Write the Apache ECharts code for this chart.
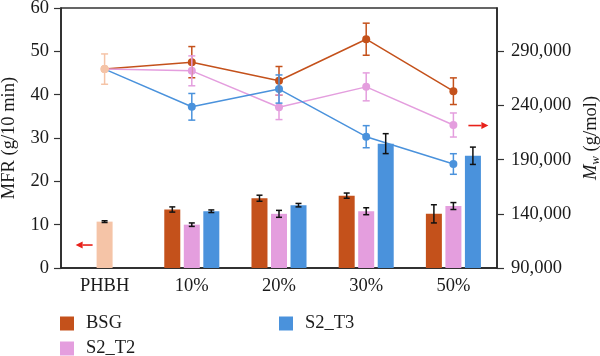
<!DOCTYPE html>
<html>
<head>
<meta charset="utf-8">
<script src="https://cdn.jsdelivr.net/npm/echarts@6/dist/echarts.min.js"></script>
<style>html,body{margin:0;padding:0;background:#fff}#c{width:600px;height:356px}</style>
</head>
<body>
<div id="c"></div>
<script>
const categories = ['PHBH', '10%', '20%', '30%', '50%'];
// MFR (left axis), bars. The PHBH bar sits in the middle slot.
const bsgMFR    = [null, 13.5, 16.1, 16.7, 12.5];
const bsgMFRErr = [null, 0.6, 0.7, 0.6, 2.1];
const t2MFR     = [10.7, 10.0, 12.5, 13.1, 14.3];
const t2MFRErr  = [0.2, 0.4, 0.8, 0.8, 0.8];
const t3MFR     = [null, 13.1, 14.5, 28.7, 25.9];
const t3MFRErr  = [null, 0.3, 0.4, 2.3, 2.0];
// Mw (right axis), lines
const bsgMw    = [273600, 280000, 262800, 301200, 253200];
const bsgMwErr = [14000, 14400, 13200, 14800, 12300];
const t2Mw     = [273600, 272000, 238400, 257200, 222000];
const t2MwErr  = [14000, 13800, 11400, 12900, 11100];
const t3Mw     = [273600, 238800, 255200, 211200, 186000];
const t3MwErr  = [14000, 12300, 13000, 10200, 9500];
const leftTicks  = [0, 10, 20, 30, 40, 50, 60];
const rightTicks = [90000, 140000, 190000, 240000, 290000];

const C_BSG = '#c4511b', C_T2 = '#e49ede', C_T3 = '#4a92dc', C_PH = '#f5c4a7';
const FONT = 'Liberation Serif';
const FS = 18.5;
const TXT = '#1a1a1a';
const BAR_W = 16, BAR_STEP = 19.5;

function errRender(offset, color, capW) {
  return function (params, api) {
    const x = api.value(0), v = api.value(1), e = api.value(2);
    const t = api.coord([x, v + e]), b = api.coord([x, v - e]);
    const cx = t[0] + offset;
    const st = { stroke: color, lineWidth: 1.5 };
    return { type: 'group', children: [
      { type: 'line', shape: { x1: cx, y1: t[1], x2: cx, y2: b[1] }, style: st },
      { type: 'line', shape: { x1: cx - capW / 2, y1: t[1], x2: cx + capW / 2, y2: t[1] }, style: st },
      { type: 'line', shape: { x1: cx - capW / 2, y1: b[1], x2: cx + capW / 2, y2: b[1] }, style: st }
    ]};
  };
}
function errData(vals, errs, skipFirst) {
  const out = [];
  vals.forEach((v, i) => {
    if (v == null || (skipFirst && i === 0)) return;
    out.push([i, v, errs[i]]);
  });
  return out;
}
function errSeries(name, vals, errs, yIdx, offset, color, capW, skipFirst) {
  return { name: name, type: 'custom', yAxisIndex: yIdx, renderItem: errRender(offset, color, capW),
    data: errData(vals, errs, skipFirst), encode: { x: 0, y: 1 }, z: 5, silent: true };
}
function lineSeries(name, vals, color) {
  return { name: name, type: 'line', yAxisIndex: 1, data: vals.map((v, i) => i === 0 ? { value: v, itemStyle: { color: C_PH } } : v),
    symbol: 'circle', symbolSize: 8, lineStyle: { color: color, width: 1.5 }, itemStyle: { color: color }, z: 4 };
}
function legendAt(name, left, top) {
  return { data: [name], left: left, top: top, icon: 'rect', itemWidth: 14, itemHeight: 14, padding: 0,
    textStyle: { fontFamily: FONT, fontSize: FS, color: TXT, padding: [0, 0, 0, 7] }, selectedMode: false };
}

const chart = echarts.init(document.getElementById('c'), null, { renderer: 'canvas' });
chart.setOption({
  animation: false,
  textStyle: { fontFamily: FONT },
  grid: { left: 61, right: 103, top: 8, bottom: 88, containLabel: false, outerBoundsMode: 'none',
    show: true, borderColor: '#333', borderWidth: 1.5, backgroundColor: 'transparent' },
  legend: [ legendAt('BSG', 60, 314), legendAt('S2_T2', 60, 339), legendAt('S2_T3', 279, 314) ],
  xAxis: {
    type: 'category', data: categories,
    axisLine: { lineStyle: { color: '#222', width: 1.5 } }, axisTick: { show: false },
    axisLabel: { fontFamily: FONT, fontSize: FS, color: TXT, margin: 9 }
  },
  yAxis: [
    { type: 'value', min: 0, max: 60, interval: 10, position: 'left',
      name: 'MFR (g/10 min)', nameLocation: 'middle', nameGap: 42, nameRotate: 90,
      nameTextStyle: { fontFamily: FONT, fontSize: FS, color: TXT },
      axisLine: { show: true, lineStyle: { color: '#222', width: 1.5 } },
      axisTick: { show: true, length: 7, lineStyle: { color: '#333', width: 1.2 } },
      axisLabel: { fontFamily: FONT, fontSize: FS, color: TXT, margin: 12, customValues: leftTicks },
      splitLine: { show: false } },
    { type: 'value', min: 90000, max: 330000, interval: 50000, position: 'right',
      name: '{m|M}{w|w}{n| (g/mol)}', nameLocation: 'middle', nameGap: 83, nameRotate: 90,
      nameTextStyle: { fontFamily: FONT, fontSize: FS, color: TXT,
        rich: { m: { fontFamily: FONT, fontSize: FS, fontStyle: 'italic', color: TXT },
                w: { fontFamily: FONT, fontSize: 13, fontStyle: 'italic', color: TXT, padding: [8, 0, 0, 0] },
                n: { fontFamily: FONT, fontSize: FS, color: TXT } } },
      axisLine: { show: true, lineStyle: { color: '#222', width: 1.5 } },
      axisTick: { show: true, length: 7, lineStyle: { color: '#333', width: 1.2 }, customValues: rightTicks },
      axisLabel: { fontFamily: FONT, fontSize: FS, color: TXT, margin: 14, customValues: rightTicks,
        formatter: v => Number(v).toLocaleString('en-US') },
      splitLine: { show: false } }
  ],
  series: [
    { name: 'BSG', type: 'bar', data: bsgMFR.map(v => v == null ? '-' : v), barWidth: BAR_W, barGap: '22%', itemStyle: { color: C_BSG }, z: 2 },
    { name: 'S2_T2', type: 'bar', data: t2MFR.map((v, i) => i === 0 ? { value: v, itemStyle: { color: C_PH } } : v), barWidth: BAR_W, barGap: '22%', itemStyle: { color: C_T2 }, z: 2 },
    { name: 'S2_T3', type: 'bar', data: t3MFR.map(v => v == null ? '-' : v), barWidth: BAR_W, barGap: '22%', itemStyle: { color: C_T3 }, z: 2 },
    errSeries('eBSG', bsgMFR, bsgMFRErr, 0, -BAR_STEP, '#111', 6, false),
    errSeries('eT2', t2MFR, t2MFRErr, 0, 0, '#111', 6, false),
    errSeries('eT3', t3MFR, t3MFRErr, 0, BAR_STEP, '#111', 6, false),
    lineSeries('BSG Mw', bsgMw, C_BSG),
    lineSeries('S2_T2 Mw', t2Mw, C_T2),
    lineSeries('S2_T3 Mw', t3Mw, C_T3),
    errSeries('eLBSG', bsgMw, bsgMwErr, 1, 0, C_BSG, 7, true),
    errSeries('eLT2', t2Mw, t2MwErr, 1, 0, C_T2, 7, true),
    errSeries('eLT3', t3Mw, t3MwErr, 1, 0, C_T3, 7, true),
    { name: 'ePH', type: 'custom', yAxisIndex: 1, renderItem: errRender(0, C_PH, 7),
      data: [[0, bsgMw[0], bsgMwErr[0]]], encode: { x: 0, y: 1 }, z: 5, silent: true }
  ]
});

// red annotation arrows
const pL = chart.convertToPixel({ xAxisIndex: 0, yAxisIndex: 0 }, [0, 5.3]);
const pR = chart.convertToPixel({ xAxisIndex: 0, yAxisIndex: 1 }, [4, 221500]);
function arrow(x1, x2, y, dir) {
  const tip = x2, base = x2 - dir * 7;
  return { type: 'group', children: [
    { type: 'line', shape: { x1: x1, y1: y, x2: base, y2: y }, style: { stroke: '#e8211a', lineWidth: 1.6 } },
    { type: 'polygon', shape: { points: [[tip, y], [base, y - 3.5], [base, y + 3.5]] }, style: { fill: '#e8211a' } }
  ]};
}
chart.setOption({ graphic: [
  arrow(pL[0] - 12, pL[0] - 29, pL[1], -1),
  arrow(pR[0] + 15, pR[0] + 35, pR[1], 1)
]});
</script>
</body>
</html>
